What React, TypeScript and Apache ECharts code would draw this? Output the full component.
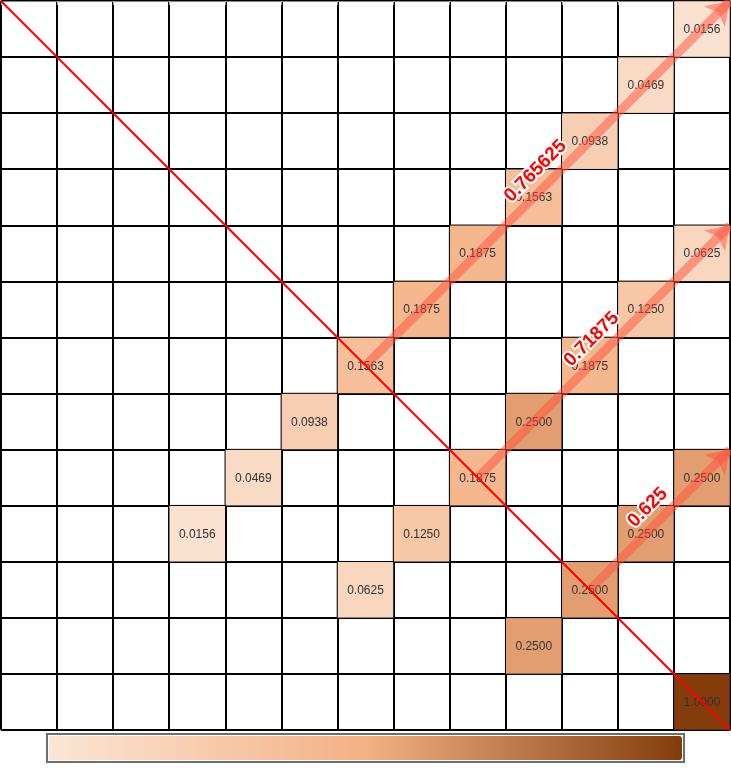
import React, { useEffect, useRef } from "react";
import * as echarts from "echarts";

const xCategories = ["0", "1", "2", "3", "4", "5", "6", "7", "8", "9", "10", "11", "12"];
const yCategories = ["0", "1", "2", "3", "4", "5", "6", "7", "8", "9", "10", "11", "12"];

// cells: column index, row index (from top), value
const cellCols = [12, 11, 10, 9, 8, 12, 7, 11, 6, 10, 5, 9, 4, 8, 12, 3, 7, 11, 6, 10, 9, 12];
const cellRows = [0, 1, 2, 3, 4, 4, 5, 5, 6, 6, 7, 7, 8, 8, 8, 9, 9, 9, 10, 10, 11, 12];
const cellValues = [
  0.0156, 0.0469, 0.0938, 0.1563, 0.1875, 0.0625, 0.1875, 0.125, 0.1563, 0.1875, 0.0938,
  0.25, 0.0469, 0.1875, 0.25, 0.0156, 0.125, 0.25, 0.0625, 0.25, 0.25, 1.0,
];

// arrows: start at the centre of diagonal cell, end at top-right corner of row in last column
const arrowFromCell = [6, 8, 10];
const arrowToRow = [0, 4, 8];
const arrowLabels = ["0.765625", "0.71875", "0.625"];

export default function App() {
  const ref = useRef<HTMLDivElement>(null);
  useEffect(() => {
    if (!ref.current) return;
    const chart = echarts.init(ref.current, undefined, { renderer: "svg" });
    const n = xCategories.length;
    const heatData = cellValues.map((v, i) => [cellCols[i], cellRows[i], v]);
    const arrowData = arrowFromCell.map((c, i) => ({
      name: arrowLabels[i],
      coords: [
        [c + 0.5, c + 0.5],
        [n, arrowToRow[i]],
      ],
    }));
    chart.setOption({
      animation: false,
      grid: { left: 1, right: 1, top: 1, bottom: 38, containLabel: false },
      xAxis: [
        {
          type: "category",
          data: xCategories,
          position: "bottom",
          axisLabel: { show: false },
          axisLine: { show: false },
          axisTick: { show: true, interval: 0, length: 4, lineStyle: { color: "#aaa" } },
          splitLine: { show: true, interval: 0, lineStyle: { color: "#000", width: 2 } },
        },
        {
          type: "value",
          min: 0,
          max: n,
          position: "top",
          axisLabel: { show: false },
          axisTick: { show: false },
          splitLine: { show: false },
          axisLine: { show: true, onZero: false, lineStyle: { color: "#888", width: 1 } },
        },
      ],
      yAxis: [
        {
          type: "category",
          data: yCategories,
          inverse: true,
          axisLabel: { show: false },
          axisLine: { show: false },
          axisTick: { show: false },
          splitLine: { show: true, interval: 0, lineStyle: { color: "#000", width: 2 } },
        },
        {
          type: "value",
          min: 0,
          max: n,
          inverse: true,
          position: "right",
          show: false,
        },
      ],
      visualMap: {
        type: "continuous",
        seriesIndex: 0,
        min: 0,
        max: 0.43,
        orient: "horizontal",
        left: "center",
        bottom: 5,
        itemWidth: 24,
        itemHeight: 633,
        calculable: false,
        hoverLink: false,
        padding: 2,
        borderColor: "#6e6e6e",
        borderWidth: 2,
        inRange: { color: ["#fbe5d6", "#f4b183", "#843c0c"] },
      },
      series: [
        {
          type: "heatmap",
          xAxisIndex: 0,
          yAxisIndex: 0,
          data: heatData,
          itemStyle: { borderColor: "#000", borderWidth: 1 },
          label: {
            show: true,
            color: "#333",
            fontSize: 12,
            fontFamily: "Arial, 'Liberation Sans', sans-serif",
            formatter: (p: any) => Number(p.value[2]).toFixed(4),
          },
          z: 2,
        },
        {
          type: "lines",
          coordinateSystem: "cartesian2d",
          xAxisIndex: 1,
          yAxisIndex: 1,
          symbol: ["none", "arrow"],
          symbolSize: 22,
          lineStyle: { color: "rgba(255,80,60,0.5)", width: 9, opacity: 1 },
          label: {
            show: true,
            position: "middle",
            formatter: "{b}",
            color: "#ff0000",
            fontWeight: "bold",
            fontSize: 19,
            fontFamily: "Arial, 'Liberation Sans', sans-serif",
            textBorderColor: "#fff",
            textBorderWidth: 4,
            distance: 9,
          },
          data: arrowData,
          z: 3,
        },
        {
          type: "lines",
          coordinateSystem: "cartesian2d",
          xAxisIndex: 1,
          yAxisIndex: 1,
          symbol: ["none", "none"],
          lineStyle: { color: "#ff0000", width: 2, opacity: 1 },
          data: [
            {
              coords: [
                [0, 0],
                [n, n],
              ],
            },
          ],
          z: 4,
        },
      ],
    });
    return () => chart.dispose();
  }, []);
  return (
    <div
      ref={ref}
      style={{ position: "fixed", left: 0, top: 0, width: 731, height: 768 }}
    />
  );
}
